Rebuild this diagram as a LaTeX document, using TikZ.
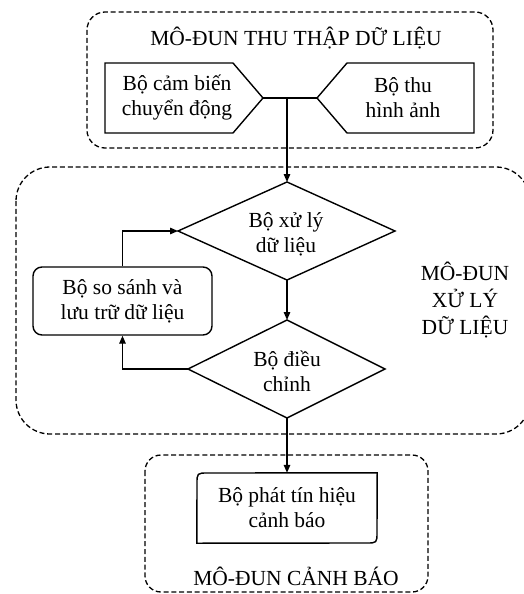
\documentclass[tikz,border=0pt]{standalone}
\usepackage{fontspec}
\setmainfont{Liberation Serif}
\newfontfamily\tnrfont{Liberation Serif}
\usetikzlibrary{arrows.meta}
\begin{document}
\begin{tikzpicture}[x=1pt,y=-1pt,
  lbl/.style={align=center,font=\tnrfont\fontsize{21.5}{25}\selectfont,inner sep=0pt},
  modbox/.style={draw,line width=1.3pt,dash pattern=on 5pt off 2.8pt},
  box/.style={draw,line width=1.4pt},
  conn/.style={line width=1.4pt,-{Triangle[length=8pt,width=6.5pt]}},
]
\useasboundingbox (0,0) rectangle (524,594);
% ---------- module 1 ----------
\draw[modbox,rounded corners=18pt] (87,12) rectangle (493,148);
\node[lbl] (t1) at (296,38) {MÔ-ĐUN THU THẬP DỮ LIỆU};
\draw[box] (105,63) -- (233,63) -- (263,98) -- (233,133) -- (105,133) -- cycle;
\node[lbl] (sensor) at (177,98) {Bộ cảm biến\\chuyển động};
\coordinate (p1) at (263,98);
\draw[box] (474,63) -- (347,63) -- (317,98) -- (347,133) -- (474,133) -- cycle;
\node[lbl] (cam) at (403,98) {Bộ thu\\hình ảnh};
\coordinate (p2) at (317,98);
\draw[line width=2.4pt] (p1) -- (p2);
\coordinate (j) at (287,98);
% ---------- module 2 ----------
\draw[modbox,rounded corners=34pt] (16,167) rectangle (530,434);
\node[lbl,font=\tnrfont\fontsize{21.5}{27}\selectfont] (t2) at (465,300) {MÔ-ĐUN\\XỬ LÝ\\DỮ LIỆU};
\coordinate (d1t) at (287,182);
\coordinate (d1l) at (178,231);
\coordinate (d1r) at (395,231);
\coordinate (d1b) at (287,280);
\draw[box] (d1t) -- (d1r) -- (d1b) -- (d1l) -- cycle;
\node[lbl] (proc) at (286,234) {Bộ xử lý\\dữ liệu};
\coordinate (d2t) at (287,320);
\coordinate (d2l) at (188,369);
\coordinate (d2r) at (385,369);
\coordinate (d2b) at (287,418);
\draw[box] (d2t) -- (d2r) -- (d2b) -- (d2l) -- cycle;
\node[lbl] (adj) at (287,371) {Bộ điều\\chỉnh};
\node[box,rounded corners=9pt,minimum width=179pt,minimum height=68pt,lbl] (store) at (122.5,301) {Bộ so sánh và\\lưu trữ dữ liệu};
% ---------- module 3 ----------
\draw[modbox,rounded corners=16pt] (145,455) rectangle (428,592);
\node[lbl,minimum width=180pt,minimum height=70pt] (alarm) at (287,508) {Bộ phát tín hiệu\\cảnh báo};
\draw[box] (alarm.south west) -- (197,484) .. controls (197,473) .. (208,473) -- (alarm.north east) -- (377,532) .. controls (377,543) .. (366,543) -- cycle;
\node[lbl] (t3) at (296,576) {MÔ-ĐUN CẢNH BÁO};
% ---------- connectors ----------
\draw[conn] (j) -- (d1t);
\draw[conn] (d1b) -- (d2t);
\draw[conn] (store.north) |- (d1l);
\draw[conn] (d2l) -| (store.south);
\draw[conn] (d2b) -- (alarm.north);
\end{tikzpicture}
\end{document}
